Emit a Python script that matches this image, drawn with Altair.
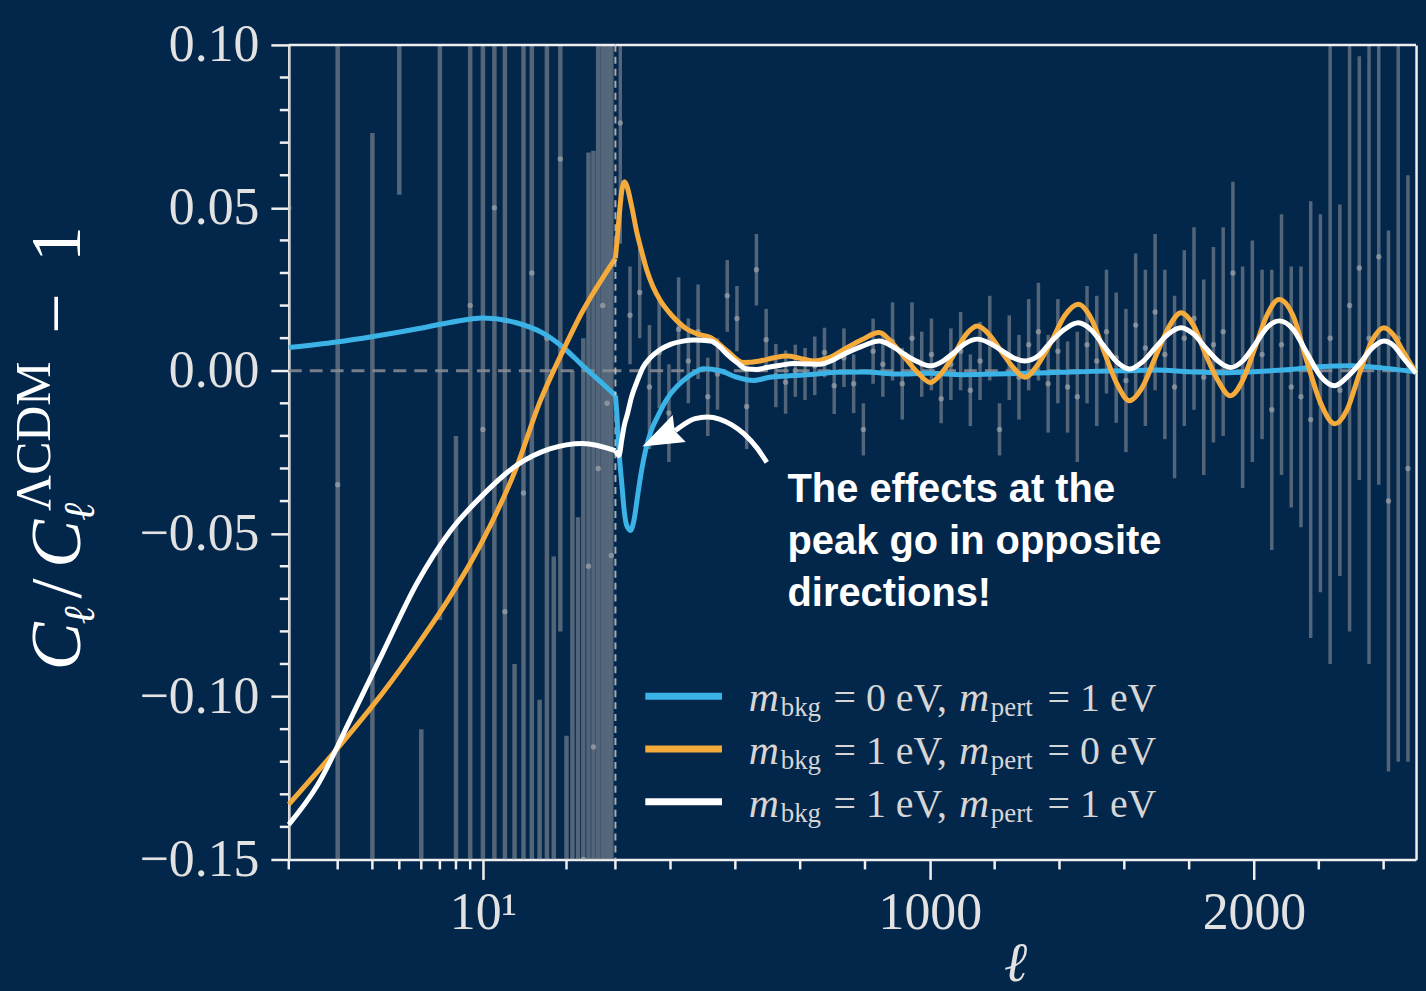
import altair as alt
import pandas as pd

# ---------------- colours / fonts ----------------
BG = "#03264b"
BLUE = "#3bb3e6"
ORANGE = "#f5aa3c"
WHITE = "#ffffff"
AXIS = "#f0f0f0"
LABEL = "#e2e2e2"
BARC = "#a4a6a8"
SERIF = "Liberation Serif"
SANS = "Liberation Sans"

W1, W2, H = 328, 804, 818

# ---------------- data ----------------
# low-ell (log panel) error bars, one per multipole
low_ell = list(range(2, 30))
low_center = [0.05, -0.035, -0.20, 0.30, -0.35, 0.12, -0.20, 0.02, -0.018, 0.05,
              -0.074, -0.25, -0.0375, 0.03, -0.25, 0.01, -0.20, 0.065, -0.25, -0.20,
              -0.18, -0.15, -0.06, -0.1155, -0.03, 0.02, -0.01, -0.0567]
low_err = [0.60, 0.40, 0.273, 0.246, 0.24, 0.1965, 0.18, 0.20, 0.18, 0.20,
           0.18, 0.16, 0.16, 0.18, 0.149, 0.17, 0.143, 0.145, 0.138, 0.20,
           0.135, 0.16, 0.127, 0.183, 0.20, 0.20, 0.20, 0.20]

# high-ell binned error bars (bins of 30)
bin_ell = list(range(45, 2476, 30))
bin_center = [0.076, 0.017, 0.024, -0.005, 0.0055, -0.013, 0.0127, 0.003, 0.012, -0.008,
              -0.001, 0.023, 0.016, -0.011, 0.031, 0.0095, -0.0015, -0.0035, 0.0, -0.001,
              0.0015, 0.0056, -0.0046, 0.004, -0.004, -0.018, 0.006, 0.002, 0.009, -0.004,
              0.010, 0.002, 0.005, -0.0086, 0.002, 0.006, -0.006, 0.003, 0.010, -0.018,
              0.004, -0.002, 0.008, 0.012, -0.004, 0.006, -0.005, -0.008, 0.008, 0.003,
              0.012, 0.004, -0.003, 0.014, 0.007, 0.018, 0.005, -0.005, 0.010, 0.016,
              -0.002, 0.008, 0.012, 0.030, -0.002, 0.006, 0.005, -0.012, 0.008, -0.005,
              -0.008, -0.015, -0.010, 0.010, -0.006, 0.020, 0.0315, 0.010, 0.035, -0.040,
              0.010, -0.030]
bin_err = [0.037, 0.015, 0.014, 0.019, 0.017, 0.015, 0.016, 0.013, 0.0145, 0.012,
           0.011, 0.011, 0.010, 0.013, 0.011, 0.0095, 0.0097, 0.0097, 0.008, 0.008,
           0.009, 0.0076, 0.0087, 0.009, 0.009, 0.008, 0.010, 0.010, 0.012, 0.011,
           0.011, 0.010, 0.011, 0.0075, 0.011, 0.012, 0.011, 0.012, 0.013, 0.008,
           0.013, 0.013, 0.014, 0.015, 0.015, 0.016, 0.014, 0.020, 0.018, 0.020,
           0.019, 0.020, 0.022, 0.022, 0.024, 0.024, 0.026, 0.028, 0.027, 0.028,
           0.030, 0.030, 0.032, 0.028, 0.034, 0.034, 0.026, 0.043, 0.040, 0.037,
           0.040, 0.067, 0.058, 0.100, 0.057, 0.100, 0.065, 0.100, 0.070, 0.083,
           0.130, 0.090]

# model curves, log panel (ell 2..30)
blue_lo_ell = [2, 2.97, 4.03, 5.76, 7.6, 10, 13.1, 16.4, 19.8, 22.9, 26.3, 30]
blue_lo_val = [0.0071, 0.0088, 0.0105, 0.0128, 0.0148, 0.0162, 0.0148, 0.0116, 0.0066,
               0.0015, -0.0031, -0.0076]
orange_lo_ell = [2, 2.98, 4.38, 5.78, 7.6, 10, 13.2, 16.0, 19.4, 22.9, 25.4, 30]
orange_lo_val = [-0.1331, -0.1161, -0.0986, -0.0845, -0.0695, -0.052, -0.0297, -0.0098,
                 0.006, 0.0184, 0.0249, 0.0345]
white_lo_ell = [2, 2.53, 3.33, 4.38, 5.78, 7.6, 10, 13.2, 17.4, 22.9, 30]
white_lo_val = [-0.1393, -0.1274, -0.1071, -0.0862, -0.0653, -0.0494, -0.0381, -0.0291,
                -0.024, -0.0223, -0.0245]

# model curves, linear panel (ell 30..2500)
blue_hi_ell = [30, 35, 41, 50, 57, 65, 77, 88, 98, 110, 123, 140, 159, 180, 200, 225, 251,
               275, 302, 353, 405, 456, 506, 560, 610, 660, 712, 800, 900, 1000, 1100,
               1200, 1300, 1400, 1500, 1600, 1700, 1800, 1900, 2000, 2100, 2200, 2300,
               2400, 2500]
blue_hi_val = [-0.0076, -0.014, -0.0245, -0.035, -0.0428, -0.0475, -0.049, -0.0455,
               -0.0388, -0.031, -0.0245, -0.0185, -0.0143, -0.0102, -0.0071, -0.0043,
               -0.0021, -0.0005, 0.0006, 0.0, -0.002, -0.003, -0.002, -0.0016, -0.0013,
               -0.0009, -0.0005, -0.0004, -0.001, -0.0008, -0.0012, -0.001, -0.0008,
               -0.0005, -0.0002, 0.0, 0.0002, -0.0003, -0.0006, -0.0003, 0.0003, 0.0012,
               0.0015, 0.0008, -0.0003]
orange_hi_ell = [30, 36, 44, 50, 58, 66, 79, 97.6, 110, 128, 145, 169, 195, 220, 250, 282,
                 323, 374, 425, 476, 520, 558, 600, 640, 690, 743, 790, 844, 884, 923,
                 962, 1002, 1038, 1075, 1111, 1147, 1184, 1220, 1257, 1293, 1334, 1375,
                 1417, 1458, 1498, 1537, 1577, 1616, 1656, 1695, 1735, 1775, 1813, 1851,
                 1889, 1927, 1965, 2003, 2040, 2078, 2120, 2163, 2206, 2249, 2287, 2325,
                 2363, 2401, 2430, 2460, 2500]
orange_hi_val = [0.0345, 0.041, 0.050, 0.0555, 0.058, 0.0565, 0.051, 0.0418, 0.037, 0.0305,
                 0.026, 0.0215, 0.018, 0.0153, 0.0128, 0.0113, 0.0102, 0.0061, 0.0025,
                 0.003, 0.004, 0.0045, 0.0038, 0.003, 0.004, 0.007, 0.0095, 0.0117, 0.0085,
                 0.004, -0.0005, -0.0036, -0.0005, 0.005, 0.011, 0.0137, 0.011, 0.006,
                 0.001, -0.002, 0.002, 0.009, 0.017, 0.0204, 0.016, 0.006, -0.004, -0.0092,
                 -0.005, 0.004, 0.013, 0.0178, 0.014, 0.005, -0.003, -0.0077, -0.003,
                 0.007, 0.017, 0.0219, 0.017, 0.003, -0.010, -0.0163, -0.012, -0.001,
                 0.009, 0.0132, 0.011, 0.006, -0.0007]
white_hi_ell = [30, 36, 41, 50, 58, 67, 80, 97.6, 115, 138, 165, 200, 235, 272, 323, 350,
                374, 405, 436, 465, 497, 540, 579, 620, 661, 700, 733, 790, 844, 884, 923,
                962, 1002, 1038, 1075, 1111, 1147, 1184, 1220, 1257, 1293, 1334, 1375,
                1417, 1458, 1498, 1537, 1577, 1616, 1656, 1695, 1735, 1775, 1813, 1851,
                1889, 1927, 1965, 2003, 2040, 2078, 2120, 2163, 2206, 2249, 2287, 2325,
                2363, 2401, 2430, 2460, 2500]
white_hi_val = [-0.0245, -0.0255, -0.026, -0.021, -0.0165, -0.0133, -0.008, -0.0031, 0.001,
                0.004, 0.0063, 0.0081, 0.009, 0.0094, 0.0091, 0.0075, 0.0051, 0.0025,
                0.0005, 0.0004, 0.001, 0.0017, 0.0022, 0.0021, 0.002, 0.0032, 0.005,
                0.0075, 0.0091, 0.0075, 0.005, 0.0028, 0.0015, 0.0028, 0.0056, 0.0085,
                0.0097, 0.0085, 0.0063, 0.004, 0.003, 0.0045, 0.009, 0.0128, 0.0147,
                0.0125, 0.0076, 0.0027, 0.0005, 0.0027, 0.007, 0.0112, 0.0132, 0.0113,
                0.007, 0.003, 0.001, 0.003, 0.008, 0.0132, 0.0153, 0.0128, 0.0055,
                -0.0017, -0.0046, -0.002, 0.002, 0.0068, 0.0091, 0.0078, 0.004, -0.0007]

# arrow of the annotation (ell, value)
arrow_ell = [497, 466, 426, 389, 353, 313, 276, 245, 214]
arrow_val = [-0.0281, -0.0236, -0.0193, -0.0166, -0.0149, -0.0142, -0.0147, -0.0162,
             -0.0184]
arrow_head = {"ell": 182, "v": -0.0199}
note_pos = {"ell": 561, "v": -0.0403}
note_lines = ["The effects at the", "peak go in opposite", "directions!"]

# ticks
y_major = [-0.15, -0.10, -0.05, 0.0, 0.05, 0.10]
y_minor = [-0.14, -0.13, -0.12, -0.11, -0.09, -0.08, -0.07, -0.06, -0.04, -0.03, -0.02,
           -0.01, 0.01, 0.02, 0.03, 0.04, 0.06, 0.07, 0.08, 0.09]
xl_major = [10]
xl_minor = [2, 3, 4, 5, 6, 7, 8, 9, 20, 30]
xr_major = [1000, 2000]
xr_minor = [200, 400, 600, 800, 1200, 1400, 1600, 1800, 2200, 2400]

legend_bkg = ["0", "1", "1"]
legend_pert = ["1", "0", "1"]
legend_colors = [BLUE, ORANGE, WHITE]

# ---------------- scales / axes ----------------
y_scale = alt.Scale(domain=[-0.15, 0.10], nice=False, zero=False)
xl_scale = alt.Scale(type="log", domain=[2, 30], nice=False)
xr_scale = alt.Scale(domain=[30, 2500], nice=False, zero=False)

common_axis = dict(tickColor=AXIS, tickWidth=2.5, domainColor=AXIS, domainWidth=2.5,
                   labelFont=SERIF, labelFontSize=52, labelColor=LABEL, grid=False,
                   title=None)
xl_axis = alt.Axis(values=xl_major, labelExpr="'10¹'", tickSize=20, labelPadding=8,
                   labelFlush=False, **common_axis)
xr_axis = alt.Axis(values=xr_major, format="d", tickSize=20, labelPadding=8,
                   labelFlush=False, **common_axis)
yl_axis = alt.Axis(values=y_major, format=".2f", tickSize=18, labelPadding=12,
                   **common_axis)
yr_axis = alt.Axis(orient="right", labels=False, ticks=False, domain=True,
                   domainColor=AXIS, domainWidth=2.5, grid=False, title=None)

lo_df = pd.DataFrame({"ell": low_ell, "c": low_center, "e": low_err})
lo_df["lo"] = lo_df["c"] - lo_df["e"]
lo_df["hi"] = lo_df["c"] + lo_df["e"]
hi_df = pd.DataFrame({"ell": bin_ell, "c": bin_center, "e": bin_err})
hi_df["lo"] = hi_df["c"] - hi_df["e"]
hi_df["hi"] = hi_df["c"] + hi_df["e"]

one = alt.Data(values=[{}])


def panel_layers(xscale, xaxis, yaxis, bars, curves, minor_x, width, bar_w):
    X = lambda f="ell": alt.X(f"{f}:Q", scale=xscale, axis=xaxis)
    Y = lambda f="v": alt.Y(f"{f}:Q", scale=y_scale, axis=yaxis)
    layers = []
    layers.append(alt.Chart(bars).mark_rule(clip=True, strokeWidth=bar_w, color=BARC,
                                             opacity=0.5)
                  .encode(x=X(), y=Y("lo"), y2="hi:Q"))
    layers.append(alt.Chart(bars).mark_circle(clip=True, size=30, color="#b8b8b8",
                                               opacity=0.55)
                  .encode(x=X(), y=Y("c")))
    layers.append(alt.Chart(one).mark_rule(color="#8a8e94", strokeWidth=3,
                                            strokeDash=[13, 8], opacity=0.85)
                  .encode(y=alt.Y(datum=0.0, scale=y_scale, axis=yaxis)))
    for ell, val, col in curves:
        d = pd.DataFrame({"ell": ell, "v": val})
        layers.append(alt.Chart(d).mark_line(color=col, strokeWidth=5,
                                             interpolate="monotone")
                      .encode(x=X(), y=Y()))
    layers.append(alt.Chart(pd.DataFrame({"ell": minor_x})).mark_rule(
        color=AXIS, strokeWidth=2.5).encode(x=X(), y=alt.value(H), y2=alt.value(H + 10)))
    layers.append(alt.Chart(one).mark_rule(color=AXIS, strokeWidth=2.5).encode(
        x=alt.value(0), x2=alt.value(width), y=alt.value(0)))
    return layers, X, Y


# ---------------- left (log) panel ----------------
left_layers, XL, YL = panel_layers(
    xl_scale, xl_axis, yl_axis, lo_df,
    [(blue_lo_ell, blue_lo_val, BLUE), (orange_lo_ell, orange_lo_val, ORANGE),
     (white_lo_ell, white_lo_val, WHITE)],
    xl_minor, W1, 4.5)
left_layers.append(alt.Chart(pd.DataFrame({"v": y_minor})).mark_rule(
    color=AXIS, strokeWidth=2.5).encode(y=YL(), x=alt.value(0), x2=alt.value(-9)))

# y title built from pieces (rotated)
title_pieces = [
    ("C", 0, 0, 72, "italic"),
    ("ℓ", 46, 14, 44, "italic"),
    ("/", 72, 0, 72, "normal"),
    ("C", 103, 0, 72, "italic"),
    ("ℓ", 150, 14, 44, "italic"),
    ("ΛCDM", 160, -30, 50, "normal"),
    ("−", 338, 0, 72, "normal"),
    ("1", 410, 0, 72, "normal"),
]
for txt, dx, dy, size, style in title_pieces:
    left_layers.append(alt.Chart(one).mark_text(
        angle=270, align="left", baseline="alphabetic", dx=dx, dy=dy, font=SERIF,
        fontSize=size, fontStyle=style, color=WHITE)
        .encode(x=alt.value(-210), y=alt.value(628), text=alt.value(txt)))

left = alt.layer(*left_layers).properties(width=W1, height=H)

# ---------------- right (linear) panel ----------------
right_layers, XR, YR = panel_layers(
    xr_scale, xr_axis, yr_axis, hi_df,
    [(blue_hi_ell, blue_hi_val, BLUE), (orange_hi_ell, orange_hi_val, ORANGE),
     (white_hi_ell, white_hi_val, WHITE)],
    xr_minor, W2, 3.5)
# dashed boundary at ell = 30
right_layers.insert(3, alt.Chart(one).mark_rule(color="#d0d0d0", strokeWidth=2,
                                                 strokeDash=[7, 5], opacity=0.8)
                    .encode(x=alt.X(datum=30, scale=xr_scale, axis=xr_axis)))
# annotation arrow
arrow_df = pd.DataFrame({"ell": arrow_ell, "v": arrow_val})
right_layers.append(alt.Chart(arrow_df).mark_line(color=WHITE, strokeWidth=5,
                                                  interpolate="monotone")
                    .encode(x=XR(), y=YR()))
right_layers.append(alt.Chart(alt.Data(values=[arrow_head])).mark_point(
    shape="M0,-1L0.6,0.65L0,0.45L-0.6,0.65Z", filled=True, size=2500, color=WHITE,
    opacity=1, strokeWidth=0)
    .encode(x=XR(), y=YR(), angle=alt.value(244)))
right_layers.append(alt.Chart(alt.Data(values=[note_pos])).mark_text(
    align="left", baseline="alphabetic", font=SANS, fontWeight="bold", fontSize=40,
    lineHeight=52, color=WHITE)
    .encode(x=XR(), y=YR(), text=alt.value(note_lines)))

# legend
row_y = [654, 707, 760]
for i in range(3):
    yb = row_y[i] + 15
    right_layers.append(alt.Chart(one).mark_rule(color=legend_colors[i], strokeWidth=7)
                        .encode(x=alt.value(30), x2=alt.value(107), y=alt.value(row_y[i])))
    pieces = [("m", 134, 0, 42, "italic"), ("bkg", 166, 5, 27, "normal"),
              (f"= {legend_bkg[i]} eV,", 219, 0, 40, "normal"),
              ("m", 345, 0, 42, "italic"), ("pert", 377, 5, 27, "normal"),
              (f"= {legend_pert[i]} eV", 434, 0, 40, "normal")]
    for txt, px, dy, size, style in pieces:
        right_layers.append(alt.Chart(one).mark_text(
            align="left", baseline="alphabetic", font=SERIF, fontSize=size,
            fontStyle=style, color="#d6d6d6", dy=dy)
            .encode(x=alt.value(px), y=alt.value(yb), text=alt.value(txt)))

# x title
right_layers.append(alt.Chart(one).mark_text(
    align="center", baseline="alphabetic", font=SERIF, fontSize=56, fontStyle="italic",
    color=LABEL).encode(x=alt.value(W2 / 2), y=alt.value(940), text=alt.value("ℓ")))

right = alt.layer(*right_layers).properties(width=W2, height=H)

chart = alt.hconcat(left, right, spacing=0, bounds="flush").properties(
    padding={"left": 10, "top": 17, "right": 0, "bottom": 0}
).configure(background=BG).configure_view(stroke=None)

chart.save("out.html", embed_options={"renderer": "svg", "actions": False})
